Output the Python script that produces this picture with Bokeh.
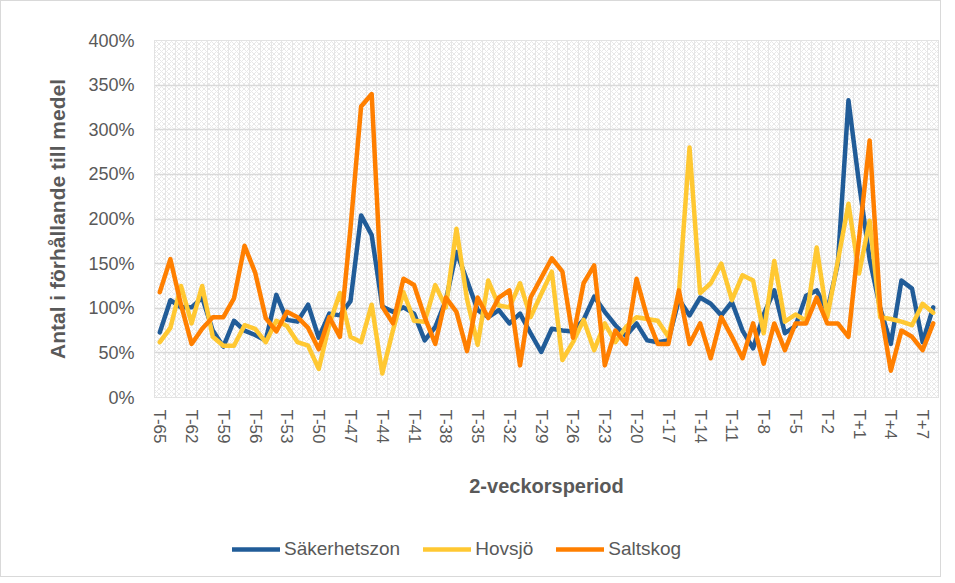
from bokeh.plotting import figure
from bokeh.layouts import column
from bokeh.models import (FixedTicker, PrintfTickFormatter, Legend, LegendItem,
                          BoxAnnotation, Range1d)
from bokeh.embed import file_html
from bokeh.resources import INLINE

periods = ["T-65", "T-64", "T-63", "T-62", "T-61", "T-60", "T-59", "T-58", "T-57", "T-56",
           "T-55", "T-54", "T-53", "T-52", "T-51", "T-50", "T-49", "T-48", "T-47", "T-46",
           "T-45", "T-44", "T-43", "T-42", "T-41", "T-40", "T-39", "T-38", "T-37", "T-36",
           "T-35", "T-34", "T-33", "T-32", "T-31", "T-30", "T-29", "T-28", "T-27", "T-26",
           "T-25", "T-24", "T-23", "T-22", "T-21", "T-20", "T-19", "T-18", "T-17", "T-16",
           "T-15", "T-14", "T-13", "T-12", "T-11", "T-10", "T-9", "T-8", "T-7", "T-6",
           "T-5", "T-4", "T-3", "T-2", "T-1", "T0", "T+1", "T+2", "T+3", "T+4",
           "T+5", "T+6", "T+7", "T+8"]

sakerhetszon = [73, 109, 101, 101, 112, 75, 57, 86, 75, 70,
                64, 115, 87, 85, 104, 67, 94, 92, 108, 204,
                182, 102, 96, 101, 94, 64, 79, 109, 163, 131,
                98, 90, 98, 83, 94, 72, 51, 77, 75, 74,
                87, 113, 96, 81, 69, 83, 64, 62, 64, 110,
                92, 112, 105, 92, 107, 75, 55, 93, 120, 72,
                80, 114, 120, 97, 150, 333, 240, 155, 100, 60,
                131, 122, 62, 101]

hovsjo = [62, 78, 125, 83, 125, 68, 58, 58, 81, 77,
          62, 86, 80, 62, 58, 32, 82, 117, 68, 62,
          104, 27, 75, 118, 86, 85, 126, 101, 189, 110,
          59, 131, 103, 101, 128, 90, 116, 141, 42, 62,
          87, 53, 83, 62, 79, 90, 88, 86, 68, 118,
          280, 117, 128, 150, 109, 137, 131, 72, 153, 85,
          93, 86, 168, 90, 153, 217, 139, 198, 90, 88,
          85, 81, 105, 95]

saltskog = [118, 155, 104, 60, 77, 90, 90, 111, 170, 140,
            89, 74, 96, 90, 78, 54, 90, 68, 190, 326,
            340, 102, 83, 133, 126, 90, 60, 112, 96, 52,
            112, 89, 112, 120, 36, 112, 134, 156, 141, 67,
            128, 148, 36, 75, 60, 133, 90, 60, 60, 120,
            60, 83, 44, 90, 68, 44, 83, 38, 83, 53,
            83, 83, 112, 83, 83, 68, 178, 288, 100, 30,
            75, 68, 53, 83]

y_ticks = [0, 50, 100, 150, 200, 250, 300, 350, 400]

series = [("Säkerhetszon", sakerhetszon, "#215C98"),
          ("Hovsjö", hovsjo, "#FFC832"),
          ("Saltskog", saltskog, "#FF7F00")]

FONT = "Liberation Sans"
GREY = "#595959"

idx = list(range(len(periods)))

p = figure(width=939, height=500, output_backend="svg", toolbar_location=None,
           x_range=Range1d(-0.5, len(periods) - 0.5), y_range=Range1d(0, 400),
           min_border_left=153, min_border_right=2, min_border_top=39,
           min_border_bottom=104)
p.outline_line_color = "#d9d9d9"
p.outline_line_width = 1

# hatched plot-area fill
p.add_layout(BoxAnnotation(level="image", fill_color="white", fill_alpha=1,
                           hatch_pattern="diagonal_cross", hatch_color="#e8e8e8",
                           hatch_scale=5, hatch_weight=1, line_color=None))

# grids
p.ygrid.ticker = FixedTicker(ticks=y_ticks)
p.ygrid.grid_line_color = "#d9d9d9"
p.ygrid.grid_line_width = 1.5
p.xgrid.ticker = FixedTicker(ticks=[i - 0.5 for i in idx])
p.xgrid.grid_line_color = "#e6e6e6"
p.xgrid.grid_line_width = 1

# axes
p.yaxis.ticker = FixedTicker(ticks=y_ticks)
p.yaxis.formatter = PrintfTickFormatter(format="%d%%")
p.yaxis.axis_line_color = None
p.yaxis.major_tick_line_color = None
p.yaxis.minor_tick_line_color = None
p.yaxis.major_label_standoff = 14
p.yaxis.major_label_text_font = FONT
p.yaxis.major_label_text_font_size = "18px"
p.yaxis.major_label_text_color = GREY
p.yaxis.axis_label = "Antal i förhållande till medel"
p.yaxis.axis_label_text_font = FONT
p.yaxis.axis_label_text_font_style = "bold"
p.yaxis.axis_label_text_font_size = "21px"
p.yaxis.axis_label_text_color = GREY
p.yaxis.axis_label_standoff = 16

p.xaxis.ticker = FixedTicker(ticks=idx[::3])
p.xaxis.major_label_overrides = {i: periods[i] for i in idx[::3]}
p.xaxis.major_label_orientation = "vertical"
p.xaxis.axis_line_color = None
p.xaxis.major_tick_line_color = None
p.xaxis.minor_tick_line_color = None
p.xaxis.major_label_standoff = 6
p.xaxis.major_label_text_font = FONT
p.xaxis.major_label_text_font_size = "17px"
p.xaxis.major_label_text_color = GREY
p.xaxis.axis_label = "2-veckorsperiod"
p.xaxis.axis_label_text_font = FONT
p.xaxis.axis_label_text_font_style = "bold"
p.xaxis.axis_label_text_font_size = "20px"
p.xaxis.axis_label_text_color = GREY
p.xaxis.axis_label_standoff = 28

for name, vals, col in series:
    p.line(idx, vals, line_color=col, line_width=4.5, line_cap="round",
           line_join="round")

# legend strip below the chart (its lines lie outside its view; only the legend shows)
lg = figure(width=939, height=75, output_backend="svg", toolbar_location=None,
            x_axis_type=None, y_axis_type=None, min_border=0,
            x_range=Range1d(-0.5, len(periods) - 0.5), y_range=Range1d(1000, 1001))
lg.outline_line_color = None
lg.grid.visible = False
items = []
for name, vals, col in series:
    r = lg.line(idx, vals, line_color=col, line_width=4.5, line_cap="round")
    items.append(LegendItem(label=name, renderers=[r]))
legend = Legend(items=items, orientation="horizontal", location=(78, 16),
                label_text_font=FONT, label_text_font_size="19px",
                label_text_color=GREY, glyph_width=48, glyph_height=20,
                spacing=23, label_standoff=4, padding=0, margin=0,
                border_line_color=None, background_fill_alpha=0)
lg.add_layout(legend)

layout = column(p, lg, spacing=0)
layout.styles = {"border": "1px solid #d9d9d9"}

open("out.html", "w").write(file_html(layout, INLINE))
